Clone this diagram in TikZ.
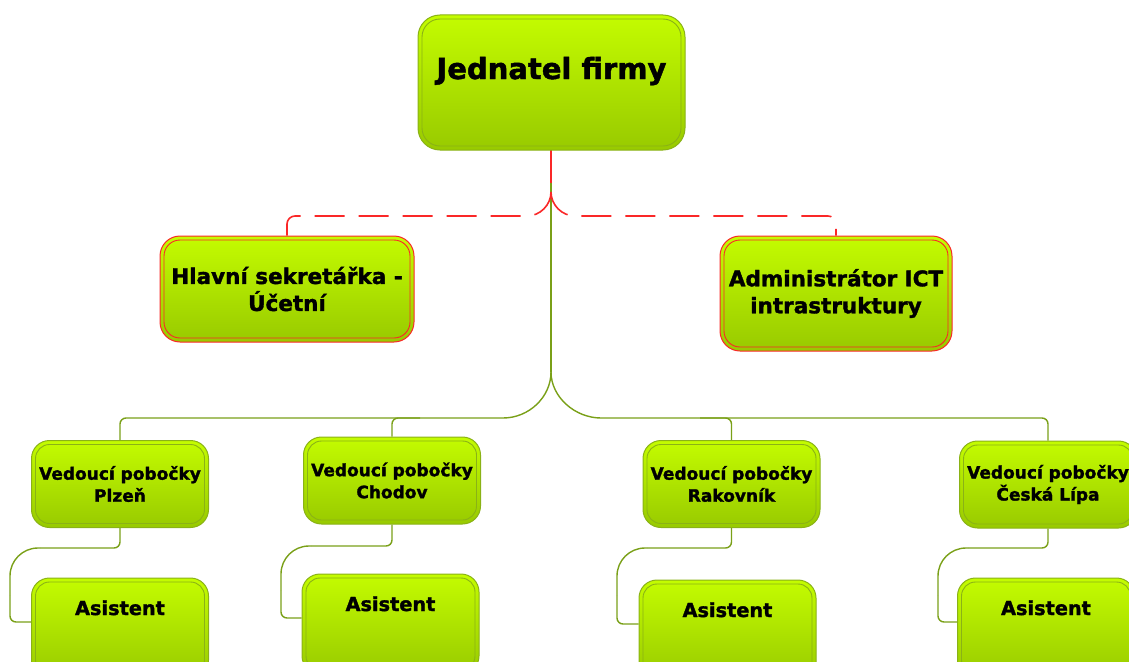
\documentclass[tikz,border=0pt]{standalone}
\usepackage{fontspec}
\setmainfont{DejaVu Sans}[BoldFeatures={FakeBold=1.6}]
\usetikzlibrary{calc}
\definecolor{limetop}{RGB}{196,252,0}
\definecolor{limebottom}{RGB}{152,202,0}
\definecolor{rimgreen}{RGB}{138,178,22}
\definecolor{inkgreen}{RGB}{112,148,16}
\definecolor{linkgreen}{RGB}{122,160,24}
\definecolor{linkred}{RGB}{250,40,40}

\begin{document}
\begin{tikzpicture}[x=1pt, y=-1pt,
            every node/.style = {align=center, font=\bfseries, inner sep=2pt},
            frame/.style 2 args = {rounded corners=#1, top color=limetop, bottom color=limebottom,
                draw=#2, line width=1pt,
                path picture={\draw[#2, line width=0.9pt, rounded corners=#1-4pt]
                    ([shift={(4pt,-4pt)}]path picture bounding box.north west) rectangle
                    ([shift={(-4pt,4pt)}]path picture bounding box.south east);}},
            boss/.style = {frame={22pt}{rimgreen}, minimum width=267pt, minimum height=135pt,
                text height=22pt, text depth=29pt, font=\bfseries\fontsize{29}{34}\selectfont},
            staff/.style = {frame={20pt}{linkred}, font=\bfseries\fontsize{21.5}{27}\selectfont},
            head/.style = {frame={18pt}{rimgreen}, minimum width=177pt, minimum height=87pt,
                font=\bfseries\fontsize{17}{22}\selectfont},
            helper/.style = {frame={18pt}{rimgreen}, minimum width=177pt, minimum height=100pt,
                text height=14pt, text depth=40pt, font=\bfseries\fontsize{19.3}{23}\selectfont},
            link/.style = {draw=linkgreen, line width=1.4pt},
            redlink/.style = {draw=linkred, line width=1.6pt},
            dashlink/.style = {redlink, dash pattern=on 30pt off 14pt}
            ]
            \useasboundingbox (0,0) rectangle (1129,661);

            % forks
            \coordinate (top fork) at (551,192);
            \coordinate (low fork) at (551,372);

            \draw[link] (551,150) -- (low fork);
            \draw[redlink] (551,150) -- (551,183);

            % staff
            \node[staff, minimum width=254pt, minimum height=106pt] (sekretarka) at (287,289) {Hlavní sekretářka -\\Účetní};
            \node[staff, minimum width=232pt, minimum height=115pt] (admin) at (836,293.5) {Administrátor ICT\\intrastruktury};
            \draw[dashlink] (top fork) .. controls (551,205) and (540,216) .. (527,216) [rounded corners=8pt] -| (sekretarka.north);
            \draw[dashlink] (top fork) .. controls (551,205) and (562,216) .. (575,216) [rounded corners=8pt] -| (admin.north);

            \node[boss] (jednatel) at (551.5,82.5) {Jednatel firmy};

            % branches
            \node[head] (plzen) at (120,484) {Vedoucí pobočky\\Plzeň};
            \node[head] (chodov) at (392,480.5) {Vedoucí pobočky\\Chodov};
            \node[head] (rakovnik) at (731.5,484) {Vedoucí pobočky\\Rakovník};
            \node[head] (ceska) at (1048,484.5) {Vedoucí pobočky\\Česká Lípa};

            \draw[link] (low fork) .. controls (551,397) and (529,418) .. (503,418) [rounded corners=6pt] -| (plzen.north);
            \draw[link] (low fork) .. controls (551,397) and (575,418) .. (601,418) [rounded corners=6pt] -| (ceska.north);
            \draw[link, rounded corners=6pt] (420,418) -| (chodov.north);
            \draw[link, rounded corners=6pt] (700,418) -| (rakovnik.north);

            % assistants
            \node[helper] (asistA) at (120,628) {Asistent};
            \node[helper] (asistB) at (390.5,624) {Asistent};
            \node[helper] (asistC) at (727.5,630) {Asistent};
            \node[helper] (asistD) at (1046,628) {Asistent};

            \draw[link, rounded corners=6pt] (plzen.south) |- (40,548);
            \draw[link, rounded corners=28pt] (40,548) -| (10,595);
            \draw[link, rounded corners=6pt] (10,595) |- ([yshift=6pt]asistA.west);

            \draw[link, rounded corners=6pt] (chodov.south) |- (311,546);
            \draw[link, rounded corners=28pt] (311,546) -| (281,590);
            \draw[link, rounded corners=6pt] (281,590) |- ([yshift=6pt]asistB.west);

            \draw[link, rounded corners=6pt] (rakovnik.south) |- (647,548);
            \draw[link, rounded corners=28pt] (647,548) -| (617,595);
            \draw[link, rounded corners=6pt] (617,595) |- ([yshift=6pt]asistC.west);

            \draw[link, rounded corners=6pt] (ceska.south) |- (968,548);
            \draw[link, rounded corners=28pt] (968,548) -| (938,595);
            \draw[link, rounded corners=6pt] (938,595) |- ([yshift=6pt]asistD.west);
        \end{tikzpicture}
\end{document}
